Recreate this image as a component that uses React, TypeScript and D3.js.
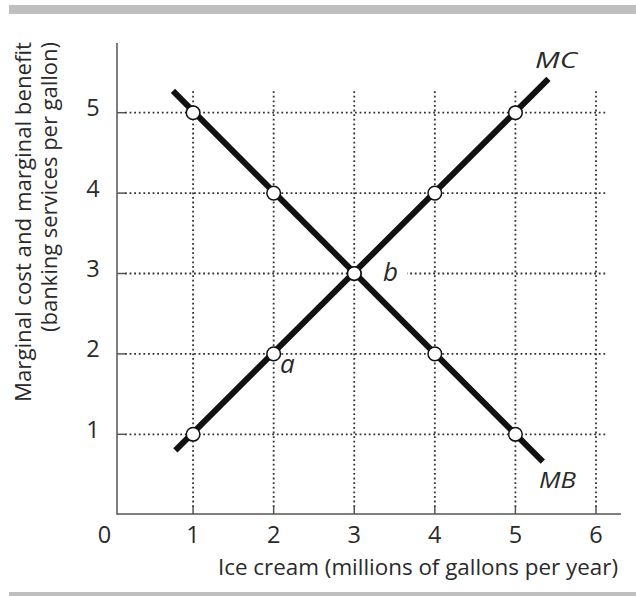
import React from "react";
import * as d3 from "d3";

const xTicks = [1, 2, 3, 4, 5, 6];
const yTicks = [1, 2, 3, 4, 5];
const quantity = [1, 2, 3, 4, 5];
const mbValues = [5, 4, 3, 2, 1];
const mcValues = [1, 2, 3, 4, 5];
const mbLine: [number, number][] = [[0.75, 5.27], [5.34, 0.66]];
const mcLine: [number, number][] = [[0.78, 0.8], [5.41, 5.42]];

const W = 636;
const H = 596;
const FONT = "'Open Sans', 'DejaVu Sans', sans-serif";

export default function App() {
  const x = d3.scaleLinear().domain([0, 6]).range([112.5, 596]);
  const y = d3.scaleLinear().domain([0, 5]).range([514.7, 112.7]);
  const axisX = 117;
  const axisY = 514;
  const gridTop = 90;
  const gridRight = 608;
  const line = d3.line<[number, number]>().x(d => x(d[0])).y(d => y(d[1]));
  const grid = "#333";
  const txt = "#2a2a2a";

  return (
    <svg width={W} height={H} style={{ position: "absolute", left: 0, top: 0 }} fontFamily={FONT}>
      <rect x={0} y={0} width={W} height={H} fill="#fff" />
      <rect x={9} y={5} width={W - 9} height={9} fill="#bfbfbf" />
      <rect x={9} y={592} width={W - 9} height={4} fill="#bfbfbf" />

      {/* grid */}
      {xTicks.map(t => (
        <line key={"gx" + t} x1={x(t)} x2={x(t)} y1={axisY - 7} y2={gridTop} stroke={grid} strokeWidth={1.8} strokeDasharray="1.8 2.8" />
      ))}
      {yTicks.map(t => (
        <line key={"gy" + t} x1={axisX + 8} x2={gridRight} y1={y(t)} y2={y(t)} stroke={grid} strokeWidth={1.8} strokeDasharray="1.8 2.8" />
      ))}

      {/* axes */}
      <line x1={axisX} x2={axisX} y1={43} y2={axisY + 0.75} stroke="#555" strokeWidth={1.5} />
      <line x1={axisX} x2={621} y1={axisY} y2={axisY} stroke="#555" strokeWidth={1.5} />
      {xTicks.map(t => (
        <line key={"tx" + t} x1={x(t)} x2={x(t)} y1={axisY} y2={axisY - 7} stroke="#555" strokeWidth={1.5} />
      ))}
      {yTicks.map(t => (
        <line key={"ty" + t} x1={axisX} x2={axisX + 8} y1={y(t)} y2={y(t)} stroke="#555" strokeWidth={1.5} />
      ))}

      {/* tick labels */}
      <text x={104.5} y={543} fontSize={23.5} textAnchor="middle" fill={txt}>0</text>
      {xTicks.map(t => (
        <text key={"lx" + t} x={x(t)} y={543} fontSize={23.5} textAnchor="middle" fill={txt}>{t}</text>
      ))}
      {yTicks.map(t => (
        <text key={"ly" + t} x={93} y={y(t) + 3.5} fontSize={23.5} textAnchor="middle" fill={txt}>{t}</text>
      ))}

      {/* label background for b */}
      <rect x={364} y={y(3) - 8} width={43} height={16} fill="#fff" />

      {/* curves */}
      <path d={line(mbLine) || ""} stroke="#111" strokeWidth={6} fill="none" />
      <path d={line(mcLine) || ""} stroke="#111" strokeWidth={6} fill="none" />
      {quantity.map((q, i) => (
        <circle key={"mb" + q} cx={x(q)} cy={y(mbValues[i])} r={6.8} fill="#fff" stroke="#111" strokeWidth={1.5} />
      ))}
      {quantity.map((q, i) => (
        <circle key={"mc" + q} cx={x(q)} cy={y(mcValues[i])} r={6.8} fill="#fff" stroke="#111" strokeWidth={1.5} />
      ))}

      {/* labels */}
      <text x={535} y={68} fontSize={21} fontStyle="italic" fill={txt} textLength={42} lengthAdjust="spacingAndGlyphs">MC</text>
      <text x={539} y={488} fontSize={21} fontStyle="italic" fill={txt} textLength={37} lengthAdjust="spacingAndGlyphs">MB</text>
      <text x={383} y={281} fontSize={26} fontStyle="italic" fill={txt}>b</text>
      <text x={280} y={373} fontSize={26} fontStyle="italic" fill={txt}>a</text>

      {/* axis titles */}
      <text x={618} y={575} fontSize={21} textAnchor="end" fill={txt} textLength={400} lengthAdjust="spacingAndGlyphs">Ice cream (millions of gallons per year)</text>
      <g transform="translate(31,42) rotate(-90)">
        <text x={-360} y={0} fontSize={21} fill={txt} textLength={360} lengthAdjust="spacingAndGlyphs">Marginal cost and marginal benefit</text>
      </g>
      <g transform="translate(57,42) rotate(-90)">
        <text x={-290} y={0} fontSize={21} fill={txt} textLength={290} lengthAdjust="spacingAndGlyphs">(banking services per gallon)</text>
      </g>
    </svg>
  );
}
